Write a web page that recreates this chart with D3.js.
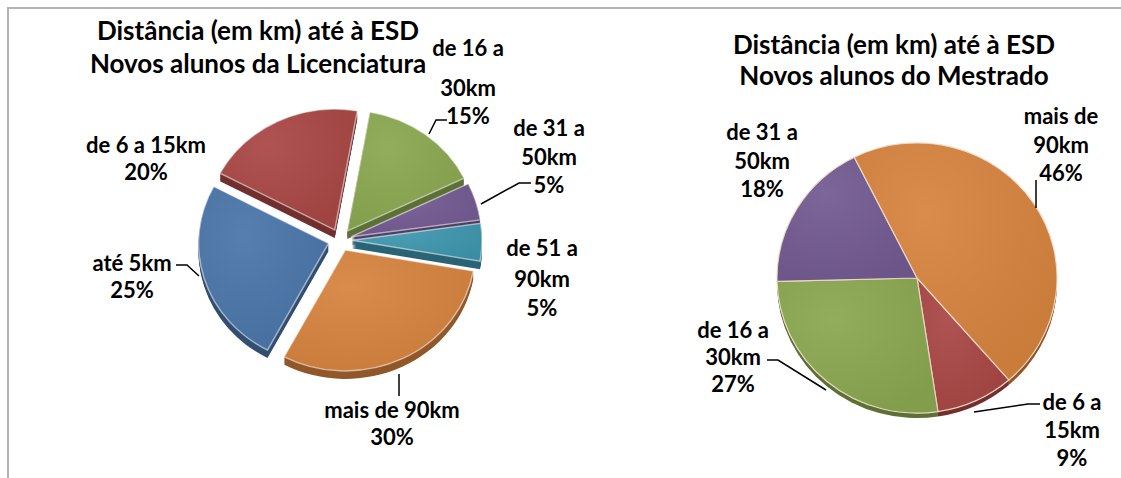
<!DOCTYPE html>
<html lang="pt">
<head>
<meta charset="UTF-8" />
<title>Distância até à ESD</title>
<script src="https://d3js.org/d3.v7.min.js"></script>
<style>
  body { margin: 0; background: #fff; }
  text { font-family: Lato, "Open Sans", sans-serif; font-weight: bold; fill: #000; }
</style>
</head>
<body>
<div class="chart"></div>
<script>
// categories (same order / colours in both charts)
var categories = ["até 5km", "de 6 a 15km", "de 16 a 30km", "de 31 a 50km", "de 51 a 90km", "mais de 90km"];
var colors = ["#4a76a9", "#a94745", "#8aa750", "#735a92", "#3e96ad", "#d6833e"];

// % of new students
var licValues = [25, 20, 15, 5, 5, 30];
var mesValues = [0, 9, 27, 18, 0, 46];

// how each label is broken into lines
var licNameLines = [["até 5km"], ["de 6 a 15km"], ["de 16 a", "30km"], ["de 31 a", "50km"], ["de 51 a", "90km"], ["mais de 90km"]];
var mesNameLines = [null, ["de 6 a", "15km"], ["de 16 a", "30km"], ["de 31 a", "50km"], null, ["mais de", "90km"]];

var titleLine1 = "Distância (em km) até à ESD";
var licTitle2 = "Novos alunos da Licenciatura";
var mesTitle2 = "Novos alunos do Mestrado";

var w = 1121, h = 478;

var svg = d3.select(".chart").append("svg")
  .attr("width", w)
  .attr("height", h);

// frame (top + left border only)
svg.append("path")
  .attr("d", "M8," + h + "V8H" + w)
  .attr("fill", "none")
  .attr("stroke", "#b4b4b4")
  .attr("stroke-width", 2);

var defs = svg.append("defs");
var shine = defs.append("radialGradient")
  .attr("id", "shine")
  .attr("cx", "35%").attr("cy", "30%").attr("r", "80%");
shine.append("stop").attr("offset", "0%").attr("stop-color", "#fff").attr("stop-opacity", 0.07);
shine.append("stop").attr("offset", "100%").attr("stop-color", "#000").attr("stop-opacity", 0.06);

function drawPie(opt) {
  var pie = d3.pie().sort(null).value(function(d) { return d; })
    .startAngle(opt.start * Math.PI / 180)
    .endAngle((opt.start + 360) * Math.PI / 180);
  var arcs = pie(opt.values).filter(function(d) { return d.value > 0; });
  var arc = d3.arc().innerRadius(0).outerRadius(opt.r);

  var g = svg.append("g");

  function offset(d) {
    var a = (d.startAngle + d.endAngle) / 2;
    return [Math.sin(a) * opt.explode, -Math.cos(a) * opt.explode];
  }
  function tf(d, dy) {
    var o = offset(d);
    return "translate(" + opt.cx + "," + (opt.cy + dy) + ") scale(1," + opt.k + ") translate(" + o[0] + "," + o[1] + ")";
  }

  // side walls
  var steps = d3.range(opt.depth, 0, -1);
  steps.forEach(function(s) {
    g.selectAll(null)
      .data(arcs)
      .enter()
      .append("path")
      .attr("d", arc)
      .attr("transform", function(d) { return tf(d, s); })
      .attr("fill", function(d) { return d3.color(colors[d.index]).darker(1.1); });
  });

  // top faces
  g.selectAll(null)
    .data(arcs)
    .enter()
    .append("path")
    .attr("d", arc)
    .attr("transform", function(d) { return tf(d, 0); })
    .attr("fill", function(d) { return colors[d.index]; })
    .attr("stroke", opt.edge)
    .attr("stroke-width", opt.edgeW);

  g.selectAll(null)
    .data(arcs)
    .enter()
    .append("path")
    .attr("d", arc)
    .attr("transform", function(d) { return tf(d, 0); })
    .attr("fill", "url(#shine)");

  // leader lines
  svg.selectAll(null)
    .data(opt.leaders)
    .enter()
    .append("path")
    .attr("d", d3.line())
    .attr("fill", "none")
    .attr("stroke", "#000")
    .attr("stroke-width", 1.5);

  // labels
  opt.labels.forEach(function(l) {
    var lines = opt.names[l.i].concat([opt.values[l.i] + "%"]);
    svg.append("g").selectAll("text")
      .data(lines)
      .enter()
      .append("text")
      .attr("x", l.x)
      .attr("y", function(d, j) { return l.y[j]; })
      .attr("text-anchor", "middle")
      .attr("font-size", "22px")
      .text(function(d) { return d; });
  });

  // title
  svg.append("g").selectAll("text")
    .data(opt.title)
    .enter()
    .append("text")
    .attr("x", opt.titleX)
    .attr("y", function(d, j) { return opt.titleY[j]; })
    .attr("text-anchor", "middle")
    .attr("font-size", "26px")
    .text(function(d) { return d; });
}

drawPie({
  values: licValues, names: licNameLines,
  cx: 340, cy: 240, r: 130, k: 0.93, start: 208, explode: 12, depth: 8,
  edge: "rgba(255,255,255,0.55)", edgeW: 1.5,
  title: [titleLine1, licTitle2], titleX: 258, titleY: [40, 73],
  labels: [
    {i: 0, x: 132, y: [271, 298]},
    {i: 1, x: 146, y: [153, 180]},
    {i: 2, x: 468, y: [56, 96, 124]},
    {i: 3, x: 549, y: [136, 165, 193]},
    {i: 4, x: 542, y: [256, 287, 316]},
    {i: 5, x: 392, y: [418, 445]}
  ],
  leaders: [
    [[176, 265], [187, 265], [199, 276]],
    [[447, 120], [436, 120], [429, 134]],
    [[531, 183], [519, 183], [481, 204]],
    [[399, 374], [399, 396]]
  ]
});

drawPie({
  values: mesValues, names: mesNameLines,
  cx: 917, cy: 278, r: 140, k: 0.965, start: 139, explode: 0, depth: 5,
  edge: "#f1dcc8", edgeW: 1.2,
  title: [titleLine1, mesTitle2], titleX: 894, titleY: [54, 85],
  labels: [
    {i: 1, x: 1072, y: [410, 438, 466]},
    {i: 2, x: 733, y: [338, 365, 392]},
    {i: 3, x: 762, y: [140, 169, 197]},
    {i: 5, x: 1061, y: [124, 153, 181]}
  ],
  leaders: [
    [[1036, 180], [1036, 208]],
    [[767, 360], [778, 360], [826, 390]],
    [[1040, 404], [1028, 404], [974, 412]]
  ]
});
</script>
</body>
</html>
